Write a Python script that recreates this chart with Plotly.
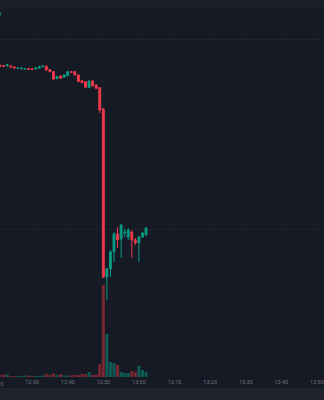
import plotly.graph_objects as go

# ---- data (1-minute candles) ----
times = ["12:21", "12:22", "12:23", "12:24", "12:25", "12:26", "12:27", "12:28", "12:29", "12:30",
         "12:31", "12:32", "12:33", "12:34", "12:35", "12:36", "12:37", "12:38", "12:39", "12:40",
         "12:41", "12:42", "12:43", "12:44", "12:45", "12:46", "12:47", "12:48", "12:49", "12:50",
         "12:51", "12:52", "12:53", "12:54", "12:55", "12:56", "12:57", "12:58", "12:59", "13:00",
         "13:01", "13:02"]
open_ = [0.5732, 0.5730, 0.5727, 0.5725, 0.5714, 0.5700, 0.5695, 0.5693, 0.5698, 0.5695,
         0.5693, 0.5702, 0.5716, 0.5722, 0.5688, 0.5665, 0.5591, 0.5619, 0.5605, 0.5622,
         0.5665, 0.5665, 0.5630, 0.5569, 0.5559, 0.5497, 0.5566, 0.5524, 0.5495, 0.5270,
         0.3492, 0.3580, 0.3757, 0.3947, 0.3894, 0.3958, 0.3915, 0.3968, 0.3884, 0.3852,
         0.3915, 0.3937]
high = [0.5741, 0.5735, 0.5746, 0.5730, 0.5720, 0.5709, 0.5706, 0.5704, 0.5704, 0.5698,
        0.5709, 0.5722, 0.5730, 0.5730, 0.5693, 0.5672, 0.5619, 0.5624, 0.5635, 0.5672,
        0.5670, 0.5672, 0.5635, 0.5577, 0.5566, 0.5572, 0.5572, 0.5529, 0.5503, 0.5280,
        0.3587, 0.3778, 0.3968, 0.4021, 0.4053, 0.4000, 0.4011, 0.3989, 0.3905, 0.3926,
        0.3968, 0.4021]
low = [0.5714, 0.5716, 0.5720, 0.5709, 0.5698, 0.5695, 0.5690, 0.5688, 0.5685, 0.5683,
       0.5688, 0.5698, 0.5714, 0.5677, 0.5658, 0.5577, 0.5584, 0.5589, 0.5600, 0.5619,
       0.5653, 0.5624, 0.5556, 0.5543, 0.5492, 0.5492, 0.5508, 0.5481, 0.5228, 0.3482,
       0.3249, 0.3492, 0.3651, 0.3799, 0.3693, 0.3915, 0.3884, 0.3693, 0.3831, 0.3651,
       0.3905, 0.3926]
close = [0.5722, 0.5722, 0.5738, 0.5714, 0.5704, 0.5704, 0.5702, 0.5698, 0.5690, 0.5688,
         0.5704, 0.5718, 0.5725, 0.5683, 0.5665, 0.5587, 0.5614, 0.5595, 0.5630, 0.5665,
         0.5658, 0.5630, 0.5561, 0.5548, 0.5500, 0.5566, 0.5513, 0.5489, 0.5259, 0.3492,
         0.3580, 0.3757, 0.3947, 0.3884, 0.4042, 0.3968, 0.3989, 0.3884, 0.3852, 0.3915,
         0.3958, 0.4011]
volume = [20, 25, 25, 10, 10, 10, 10, 15, 15, 10,
          10, 10, 15, 30, 20, 35, 20, 30, 15, 15,
          15, 20, 20, 30, 30, 50, 20, 25, 130, 920,
          430, 150, 140, 120, 50, 40, 40, 60, 50, 110,
          70, 50]

day = "2024-03-15 "
x = [day + t for t in times]

UP = "#0a9a82"
DOWN = "#ee3a4b"
BG = "#161a25"

vol_colors = ["rgba(8,153,129,0.5)" if c >= o else "rgba(242,54,69,0.45)"
              for o, c in zip(open_, close)]

fig = go.Figure()
fig.add_trace(go.Bar(
    x=x, y=volume, marker=dict(color=vol_colors, line=dict(width=0)),
    yaxis="y", hoverinfo="skip", showlegend=False))
fig.add_trace(go.Candlestick(
    x=x, open=open_, high=high, low=low, close=close, yaxis="y2",
    increasing=dict(line=dict(color=UP, width=1), fillcolor=UP),
    decreasing=dict(line=dict(color=DOWN, width=1), fillcolor=DOWN),
    whiskerwidth=0, showlegend=False))

x_range = [day + "12:20:59", day + "13:51:59"]

fig.update_layout(
    width=324, height=400,
    margin=dict(l=0, r=0, t=0, b=23),
    paper_bgcolor=BG, plot_bgcolor=BG,
    bargap=0.15, boxgap=0.25,
    showlegend=False,
    xaxis=dict(
        type="date", range=x_range, rangeslider=dict(visible=False),
        tickformat="%H:%M", dtick=600000, tick0=day + "12:00",
        showgrid=True, gridcolor="#1a1e2a", gridwidth=1,
        zeroline=False, showline=False, ticks="",
        tickfont=dict(family="Roboto", size=5.5, color="#6f737d"),
    ),
    yaxis=dict(range=[0, 3770], showgrid=False, zeroline=False,
               showticklabels=False, ticks=""),
    yaxis2=dict(overlaying="y", side="right", range=[0.2434, 0.6423],
                tick0=0, dtick=0.2, showgrid=True, gridcolor="#1e222e",
                zeroline=False, showticklabels=False, ticks=""),
    shapes=[
        dict(type="rect", xref="paper", yref="paper", x0=0, x1=1,
             y0=-11 / 377, y1=-23 / 377, fillcolor="#20232c", line=dict(width=0),
             layer="below"),
        dict(type="rect", xref="paper", yref="paper", x0=0, x1=1,
             y0=1 - 9 / 377, y1=1, fillcolor="#1a1e29", line=dict(width=0),
             layer="below"),
    ],
    annotations=[
        dict(text="12:20", xref="paper", yref="paper", x=-3.5 / 324, y=0,
             yanchor="top", xanchor="center", showarrow=False, yshift=-2,
             font=dict(family="Roboto", size=5.5, color="#6f737d")),
        dict(text="M", xref="paper", yref="paper", x=3 / 324, y=1 - 13.5 / 377,
             xanchor="right", yanchor="middle", showarrow=False,
             font=dict(family="Roboto", size=5, color=UP)),
    ],
)

fig.write_html("out.html")
